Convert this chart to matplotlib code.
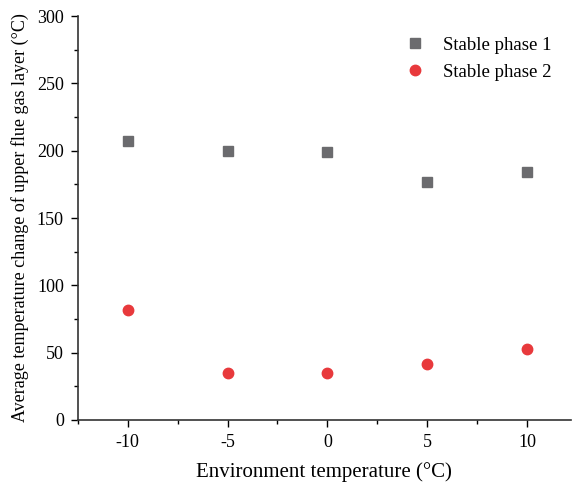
import numpy as np
import matplotlib.pyplot as plt

plt.rcParams['font.family'] = ['Liberation Serif', 'DejaVu Serif']
plt.rcParams['axes.unicode_minus'] = False

env_temp = [-10, -5, 0, 5, 10]
phase1 = [207, 200, 199, 177, 184]
phase2 = [82, 35, 35, 41.5, 52.5]

fig = plt.figure(figsize=(5.72, 4.87), dpi=100)
ax = fig.add_axes([0.136, 0.1376, 0.862, 0.8295])

ax.plot(env_temp, phase1, 's', color='#6b6b6e', markersize=6.5, label='Stable phase 1')
ax.plot(env_temp, phase2, 'o', color='#e8393c', markersize=7.5, label='Stable phase 2')

ax.set_xlim(-12.5, 12.2)
ax.set_ylim(0, 300)
ax.set_xticks([-10, -5, 0, 5, 10])
ax.set_xticks([-12.5, -7.5, -2.5, 2.5, 7.5], minor=True)
ax.set_yticks(np.arange(0, 301, 50))
ax.set_yticks(np.arange(25, 300, 50), minor=True)
ax.tick_params(which='major', direction='out', length=5, width=1, labelsize=13, pad=5)
ax.tick_params(which='minor', direction='out', length=3, width=1)
for s in ['top', 'right']:
    ax.spines[s].set_visible(False)
for s in ['left', 'bottom']:
    ax.spines[s].set_linewidth(1.2)
    ax.spines[s].set_color('#333333')

ax.set_xlabel('Environment temperature (°C)', fontsize=15, labelpad=8)
ax.set_ylabel('Average temperature change of upper flue gas layer (°C)', fontsize=13, labelpad=6)
ax.legend(loc='upper right', frameon=False, fontsize=13.5, handletextpad=0.5,
          bbox_to_anchor=(0.995, 0.99))

fig.savefig('out.png', dpi=100)
